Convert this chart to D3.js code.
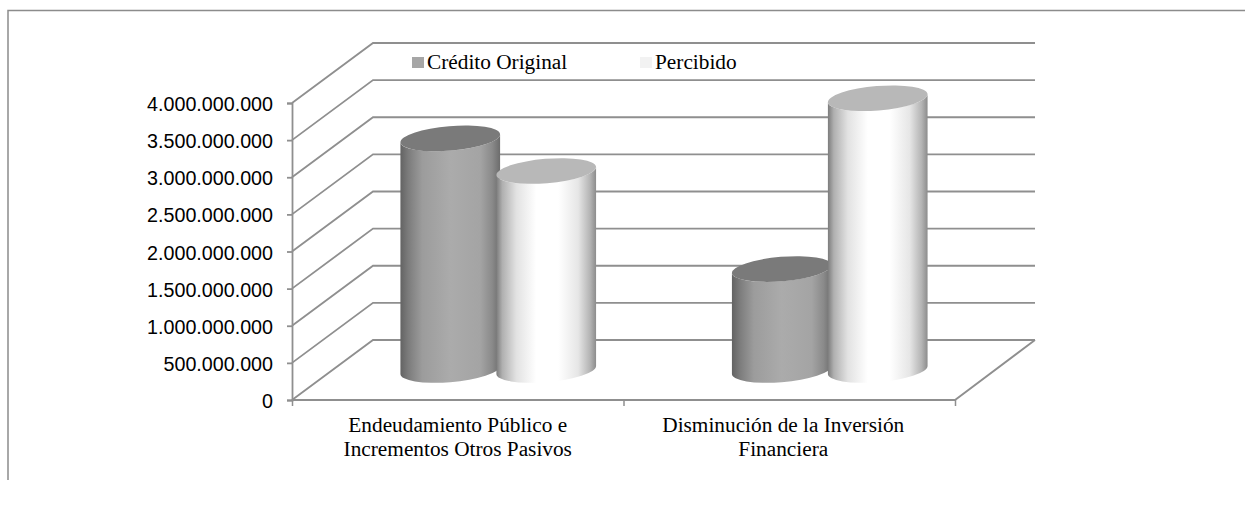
<!DOCTYPE html>
<html><head><meta charset="utf-8">
<style>html,body{margin:0;padding:0;background:#fff}svg{display:block}</style>
<script src="https://cdn.jsdelivr.net/npm/d3@7"></script></head><body>
<svg id="c" width="1245" height="506"></svg>
<script>
const categories = [["Endeudamiento Público e","Incrementos Otros Pasivos"],["Disminución de la Inversión","Financiera"]];
const seriesNames = ["Crédito Original","Percibido"];
const creditoOriginal = [3120000000,1360000000];
const percibido = [2680000000,3660000000];
const tickValues = [0,500000000,1000000000,1500000000,2000000000,2500000000,3000000000,3500000000,4000000000];
const seriesValues = [creditoOriginal,percibido];

const svg = d3.select("#c");
const GRID="#8f8f8f", depthX=81, depthY=-60;
const y = d3.scaleLinear().domain([0,4000000000]).range([400,103]);
const x0 = d3.scaleBand().domain(d3.range(categories.length)).range([292,955]);
const x1 = d3.scaleBand().domain(d3.range(seriesNames.length)).range([0,x0.bandwidth()]).paddingInner(0).paddingOuter(0.727);
const fmt = v => d3.format(",")(v).replace(/,/g,".");

// frame
svg.append("path").attr("d","M8,480V10.5H1245").attr("fill","none").attr("stroke","#8c8c8c").attr("stroke-width",1.5);

// gradients
const defs = svg.append("defs");
const stops = [
 [[0,"#636363"],[.08,"#7c7c7c"],[.22,"#9c9c9c"],[.5,"#ababab"],[.8,"#a4a4a4"],[.92,"#8a8a8a"],[1,"#6c6c6c"]],
 [[0,"#7c7c7c"],[.06,"#b0b0b0"],[.2,"#e2e2e2"],[.4,"#ffffff"],[.62,"#ffffff"],[.82,"#e6e6e6"],[.94,"#b4b4b4"],[1,"#8c8c8c"]]
];
stops.forEach((s,i)=>{
  const g=defs.append("linearGradient").attr("id","g"+i).attr("x1",0).attr("x2",1).attr("y1",0).attr("y2",0);
  s.forEach(d=>g.append("stop").attr("offset",d[0]).attr("stop-color",d[1]));
});
const topFill=["#7a7a7a","#b8b8b8"];

// walls / gridlines
const grid = svg.append("g").attr("fill","none").attr("stroke",GRID).attr("stroke-width",1.8);
tickValues.forEach(v=>{
  grid.append("path").attr("d",d3.line()([[292,y(v)],[292+depthX,y(v)+depthY],[955+depthX-1,y(v)+depthY]]));
});
grid.append("path").attr("d",d3.line()([[292,400],[955,400],[955+depthX-1,400+depthY]]));

// axes
const ax = d3.axisLeft(y).tickValues(tickValues).tickFormat(fmt).tickSize(5).tickPadding(14);
const gy = svg.append("g").attr("transform","translate(292,0)").call(ax);
gy.selectAll("path,line").attr("stroke",GRID).attr("stroke-width",1.8);
gy.selectAll("text").attr("font-family","Liberation Sans").attr("font-size",19.7).attr("fill","#000").attr("dy","0.38em");

const gx = svg.append("g").attr("transform","translate(0,400)").call(
  d3.axisBottom(d3.scaleLinear().domain([0,categories.length]).range([292,955])).tickValues(d3.range(categories.length+1)).tickSize(6).tickFormat(""));
gx.select("path").remove();
gx.selectAll("line").attr("stroke",GRID).attr("stroke-width",1.5);

// cylinders
const a=50,b=12.2,th=4.8*Math.PI/180;
const t0=Math.atan2(-b*Math.sin(th),a*Math.cos(th));
const ex=a*Math.cos(t0)*Math.cos(th)-b*Math.sin(t0)*Math.sin(th);
const ey=-(a*Math.cos(t0)*Math.sin(th)+b*Math.sin(t0)*Math.cos(th));
const deg=-4.8;
categories.forEach((c,ci)=>{
  seriesNames.forEach((s,si)=>{
    const v=seriesValues[si][ci];
    const cx=x0(ci)+x1(si)+x1.bandwidth()/2+depthX/2;
    const yt=y(v)+depthY/2, yb=y(0)+depthY/2;
    const g=svg.append("g");
    const lx=cx-Math.abs(ex), rx=cx+Math.abs(ex), dy=Math.abs(ey);
    g.append("path").attr("fill",`url(#g${si})`)
      .attr("d",`M${lx},${yt+dy}L${lx},${yb+dy}A${a},${b} ${deg} 0 0 ${rx},${yb-dy}L${rx},${yt-dy}A${a},${b} ${deg} 0 1 ${lx},${yt+dy}Z`);
    g.append("ellipse").attr("rx",a).attr("ry",b).attr("fill",topFill[si])
      .attr("transform",`translate(${cx},${yt}) rotate(${deg})`);
  });
});

// category labels
const labelShift=[0,-6];
const lab = svg.append("g").attr("font-family","Liberation Serif").attr("font-size",21.3).attr("text-anchor","middle").attr("fill","#000");
categories.forEach((c,i)=>{
  c.forEach((t,j)=>lab.append("text").attr("x",x0(i)+x0.bandwidth()/2+labelShift[i]).attr("y",432+j*24).text(t));
});

// legend
const legendX=[412,640], legendColor=["#a6a6a6","#f2f2f2"];
seriesNames.forEach((s,i)=>{
  svg.append("rect").attr("x",legendX[i]).attr("y",57).attr("width",12).attr("height",11).attr("fill",legendColor[i]);
  svg.append("text").attr("x",legendX[i]+15).attr("y",69).attr("font-family","Liberation Serif").attr("font-size",21.3).attr("fill","#000").text(s);
});
</script></body></html>
